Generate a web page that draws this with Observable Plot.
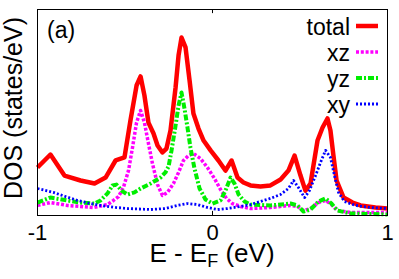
<!DOCTYPE html>
<html>
<head>
<meta charset="utf-8">
<script src="https://cdn.jsdelivr.net/npm/d3@7"></script>
<script src="https://cdn.jsdelivr.net/npm/@observablehq/plot@0.6"></script>
<style>
  html, body { margin: 0; padding: 0; background: #fff; }
  svg { display: block; }
</style>
</head>
<body>
<div id="chart"></div>
<script>
const totalE = [-1.0,-0.926,-0.846,-0.754,-0.674,-0.611,-0.554,-0.503,-0.469,-0.434,-0.411,-0.389,-0.366,-0.337,-0.314,-0.286,-0.263,-0.24,-0.211,-0.194,-0.177,-0.154,-0.131,-0.109,-0.08,-0.051,-0.011,0.034,0.074,0.109,0.143,0.177,0.217,0.274,0.331,0.389,0.434,0.469,0.503,0.531,0.56,0.6,0.629,0.657,0.674,0.691,0.709,0.749,0.8,0.846,0.931,1.0];
const totalDOS = [2.33,2.96,1.94,1.70,1.55,1.84,2.67,2.82,4.61,6.31,6.75,5.83,4.51,3.98,3.40,3.06,3.25,4.13,6.21,7.77,8.64,8.16,6.55,4.95,4.22,3.64,3.16,2.67,2.18,2.67,1.84,1.60,1.46,1.41,1.46,1.75,2.18,2.91,1.94,1.21,1.55,3.64,4.27,4.71,4.13,2.91,1.70,0.87,0.63,0.49,0.39,0.34];

const xzE = [-1.0,-0.926,-0.829,-0.68,-0.6,-0.566,-0.537,-0.509,-0.48,-0.457,-0.434,-0.411,-0.389,-0.366,-0.343,-0.314,-0.286,-0.257,-0.223,-0.194,-0.166,-0.137,-0.109,-0.069,-0.029,0.011,0.046,0.08,0.114,0.16,0.217,0.331,0.446,0.486,0.52,0.56,0.606,0.646,0.68,0.714,0.789,1.0];
const xzDOS = [0.49,0.63,0.49,0.39,0.53,0.73,0.92,1.36,2.18,3.30,4.51,5.10,4.51,3.50,2.52,1.50,0.97,1.12,1.55,2.09,2.67,2.91,3.01,2.77,2.33,1.80,1.26,0.83,0.58,0.44,0.34,0.39,0.49,0.44,0.24,0.34,0.63,0.73,0.53,0.24,0.15,0.15];

const yzE = [-1.0,-0.926,-0.829,-0.754,-0.674,-0.64,-0.6,-0.571,-0.549,-0.52,-0.486,-0.446,-0.411,-0.354,-0.297,-0.269,-0.251,-0.234,-0.211,-0.194,-0.177,-0.16,-0.143,-0.126,-0.103,-0.074,-0.04,0.0,0.046,0.074,0.103,0.126,0.149,0.183,0.217,0.331,0.446,0.486,0.52,0.56,0.606,0.646,0.68,0.714,0.789,1.0];
const yzDOS = [0.63,0.87,0.73,0.63,0.58,0.73,1.07,1.46,1.50,1.21,1.02,1.12,1.31,1.55,1.84,2.09,2.38,3.16,4.37,5.34,5.97,5.19,4.27,3.30,2.28,1.31,0.78,0.58,0.73,1.21,1.84,1.55,1.02,0.68,0.53,0.49,0.58,0.49,0.19,0.29,0.68,0.83,0.58,0.24,0.10,0.05];

const xyE = [-1.0,-0.909,-0.84,-0.771,-0.697,-0.64,-0.554,-0.486,-0.354,-0.269,-0.2,-0.143,-0.086,-0.029,0.029,0.086,0.16,0.217,0.274,0.331,0.389,0.434,0.463,0.491,0.526,0.554,0.589,0.617,0.646,0.674,0.697,0.72,0.754,0.817,0.903,1.0];
const xyDOS = [1.31,1.12,0.92,0.73,0.58,0.49,0.39,0.34,0.29,0.34,0.49,0.58,0.53,0.39,0.29,0.34,0.44,0.53,0.68,0.83,1.02,1.31,1.70,1.36,0.87,1.21,1.94,2.57,3.16,2.82,1.94,1.12,0.68,0.49,0.39,0.34];

const xTicks = [-1, 0, 1];
const seriesNames = ["total", "xz", "yz", "xy"];
const panelLabel = "(a)";
const xLabelParts = ["E - E", "F", " (eV)"];
const yLabel = "DOS (states/eV)";

const styles = {
  total: {stroke: "#ff0000", strokeWidth: 4.5, dash: null},
  xz: {stroke: "#ff00ff", strokeWidth: 3.5, dash: "3,1.8"},
  yz: {stroke: "#00ee00", strokeWidth: 4, dash: "6,2,2,2"},
  xy: {stroke: "#0000ff", strokeWidth: 2.8, dash: "2,2"}
};
const seriesData = {
  total: totalE.map((e, i) => ({e, v: totalDOS[i]})),
  xz: xzE.map((e, i) => ({e, v: xzDOS[i]})),
  yz: yzE.map((e, i) => ({e, v: yzDOS[i]})),
  xy: xyE.map((e, i) => ({e, v: xyDOS[i]}))
};

const FONT = "'Liberation Sans', Arial, Helvetica, sans-serif";

const plot = Plot.plot({
  width: 399,
  height: 279,
  marginLeft: 37,
  marginRight: 12,
  marginTop: 9,
  marginBottom: 64,
  style: {fontFamily: FONT, background: "#fff", color: "#000"},
  x: {domain: [-1, 1]},
  y: {domain: [0, 10], axis: null},
  marks: [
    ...seriesNames.map(name => Plot.line(seriesData[name], {
      x: "e", y: "v",
      stroke: styles[name].stroke,
      strokeWidth: styles[name].strokeWidth,
      strokeDasharray: styles[name].dash,
      strokeLinejoin: "round",
      strokeLinecap: "butt"
    })),
    Plot.ruleX(xTicks, {y1: 0, y2: 0.2, stroke: "#000", strokeWidth: 1}),
    Plot.ruleX(xTicks, {y1: 10, y2: 9.8, stroke: "#000", strokeWidth: 1}),
    Plot.frame({stroke: "#000", strokeWidth: 1}),
    Plot.axisX({ticks: xTicks, tickSize: 0, tickPadding: 9, fontSize: 22, tickFormat: d => d === 0 ? "0" : (d < 0 ? "-" + Math.abs(d) : String(d)), label: null})
  ]
});
document.getElementById("chart").appendChild(plot);

const svg = d3.select(plot);
// panel label
svg.append("text").attr("x", 47).attr("y", 38).attr("text-anchor", "start")
  .attr("font-family", FONT).attr("font-size", 23).text(panelLabel);

// y label
svg.append("text")
  .attr("transform", "translate(22,108) rotate(-90)")
  .attr("text-anchor", "middle")
  .attr("font-family", FONT).attr("font-size", 25)
  .text(yLabel);

// x label with subscript
const xl = svg.append("text").attr("x", 212).attr("y", 262)
  .attr("text-anchor", "middle").attr("font-family", FONT).attr("font-size", 26);
xl.append("tspan").text(xLabelParts[0]);
xl.append("tspan").attr("dy", 5).attr("font-size", 18).text(xLabelParts[1]);
xl.append("tspan").attr("dy", -5).text(xLabelParts[2]);

// legend
const leg = svg.append("g");
seriesNames.forEach((name, i) => {
  const base = 35 + i * 26;
  leg.append("text").attr("x", 350).attr("y", base)
    .attr("text-anchor", "end").attr("font-family", FONT).attr("font-size", 23)
    .text(name);
  leg.append("line").attr("x1", 356).attr("x2", 378)
    .attr("y1", base - 9).attr("y2", base - 9)
    .attr("stroke", styles[name].stroke)
    .attr("stroke-width", styles[name].strokeWidth)
    .attr("stroke-dasharray", styles[name].dash);
});
</script>
</body>
</html>
